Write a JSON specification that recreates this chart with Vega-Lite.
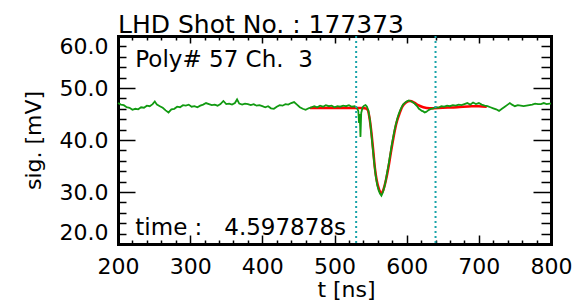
{
  "$schema": "https://vega.github.io/schema/vega-lite/v6.json",
  "width": 433,
  "height": 208,
  "autosize": {"type": "none"},
  "padding": {"left": 118, "top": 36, "right": 31, "bottom": 58},
  "background": "white",
  "title": {"text": "LHD Shot No. : 177373", "anchor": "start", "frame": "group", "font": "DejaVu Sans", "fontSize": 25, "fontWeight": "normal", "color": "black", "baseline": "alphabetic", "offset": -23},
  "config": {
    "view": {"stroke": null},
    "axis": {"grid": false, "tickColor": "black", "domainColor": "black", "labelColor": "black", "titleColor": "black", "labelFont": "DejaVu Sans", "titleFont": "DejaVu Sans", "labelFontSize": 22, "titleFontSize": 22, "titleFontWeight": "normal", "tickWidth": 1.5, "domainCap": "square"}
  },
  "resolve": {"axis": {"x": "independent", "y": "independent"}},
  "layer": [
    {
      "data": {"values": [
        {"t": 466, "v": 46.15}, {"t": 480, "v": 46.15}, {"t": 500, "v": 46.15}, {"t": 520, "v": 46.15}, {"t": 535, "v": 46.15}, {"t": 542, "v": 46.1}, {"t": 546, "v": 45.8}, {"t": 549, "v": 43.8}, {"t": 551.5, "v": 41.0}, {"t": 553.8, "v": 37.8}, {"t": 556, "v": 34.6}, {"t": 558.4, "v": 32.3}, {"t": 562, "v": 30.4}, {"t": 564.4, "v": 29.75}, {"t": 567.6, "v": 30.4}, {"t": 571.3, "v": 32.3}, {"t": 574.6, "v": 34.6}, {"t": 577.9, "v": 37.4}, {"t": 581.5, "v": 40.3}, {"t": 585.2, "v": 42.9}, {"t": 589.4, "v": 44.8}, {"t": 594, "v": 46.4}, {"t": 599, "v": 47.2}, {"t": 604.6, "v": 47.5}, {"t": 610.5, "v": 47.2}, {"t": 616, "v": 46.7}, {"t": 623, "v": 46.3}, {"t": 632, "v": 46.1}, {"t": 650, "v": 46.2}, {"t": 670, "v": 46.3}, {"t": 690, "v": 46.5}, {"t": 700, "v": 46.5}, {"t": 711, "v": 46.4}
      ]},
      "mark": {"type": "line", "color": "#ff0000", "strokeWidth": 2.5, "interpolate": "monotone"},
      "encoding": {
        "x": {"field": "t", "type": "quantitative", "scale": {"domain": [200, 800], "nice": false, "zero": false},
          "axis": {"orient": "bottom", "values": [220,240,260,280,320,340,360,380,420,440,460,480,520,540,560,580,620,640,660,680,720,740,760,780], "tickSize": -4, "labels": false, "domain": false, "title": null}},
        "y": {"field": "v", "type": "quantitative", "scale": {"domain": [20, 60], "nice": false, "zero": false},
          "axis": {"orient": "left", "values": [22,24,26,28,32,34,36,38,42,44,46,48,52,54,56,58], "tickSize": -8, "labels": false, "domain": false, "title": null}}
      }
    },
    {
      "data": {"values": [
        {"t": 200, "v": 47.1}, {"t": 204, "v": 46.8}, {"t": 208, "v": 46.7}, {"t": 212, "v": 46.3}, {"t": 216, "v": 46.2}, {"t": 220, "v": 45.8}, {"t": 224, "v": 46.0}, {"t": 228, "v": 45.9}, {"t": 232, "v": 46.3}, {"t": 236, "v": 46.2}, {"t": 240, "v": 46.6}, {"t": 244, "v": 46.5}, {"t": 248, "v": 46.9}, {"t": 251, "v": 47.4}, {"t": 254, "v": 46.8}, {"t": 258, "v": 46.5}, {"t": 262, "v": 46.2}, {"t": 266, "v": 45.7}, {"t": 270, "v": 45.3}, {"t": 274, "v": 45.9}, {"t": 278, "v": 46.0}, {"t": 282, "v": 46.4}, {"t": 286, "v": 46.3}, {"t": 290, "v": 46.7}, {"t": 294, "v": 46.6}, {"t": 298, "v": 46.8}, {"t": 302, "v": 46.4}, {"t": 306, "v": 46.5}, {"t": 310, "v": 46.3}, {"t": 314, "v": 46.6}, {"t": 318, "v": 46.8}, {"t": 322, "v": 47.1}, {"t": 326, "v": 46.9}, {"t": 330, "v": 46.7}, {"t": 334, "v": 46.8}, {"t": 338, "v": 46.6}, {"t": 342, "v": 46.9}, {"t": 346, "v": 47.5}, {"t": 350, "v": 46.9}, {"t": 354, "v": 47.0}, {"t": 358, "v": 46.8}, {"t": 362, "v": 47.1}, {"t": 365, "v": 47.8}, {"t": 368, "v": 47.0}, {"t": 372, "v": 46.8}, {"t": 376, "v": 47.0}, {"t": 380, "v": 46.9}, {"t": 384, "v": 46.7}, {"t": 388, "v": 46.9}, {"t": 392, "v": 46.6}, {"t": 396, "v": 46.7}, {"t": 400, "v": 46.5}, {"t": 404, "v": 46.3}, {"t": 408, "v": 46.5}, {"t": 412, "v": 46.1}, {"t": 416, "v": 46.0}, {"t": 420, "v": 46.4}, {"t": 424, "v": 46.7}, {"t": 428, "v": 46.6}, {"t": 432, "v": 46.9}, {"t": 436, "v": 46.8}, {"t": 440, "v": 47.1}, {"t": 444, "v": 47.3}, {"t": 448, "v": 46.8}, {"t": 452, "v": 46.3}, {"t": 456, "v": 46.0}, {"t": 460, "v": 45.8}, {"t": 464, "v": 46.1}, {"t": 468, "v": 46.3}, {"t": 472, "v": 46.5}, {"t": 476, "v": 46.3}, {"t": 480, "v": 46.6}, {"t": 484, "v": 46.4}, {"t": 488, "v": 46.7}, {"t": 492, "v": 46.5}, {"t": 496, "v": 46.6}, {"t": 500, "v": 46.3}, {"t": 504, "v": 46.5}, {"t": 508, "v": 46.4}, {"t": 512, "v": 46.6}, {"t": 516, "v": 46.5}, {"t": 520, "v": 46.7}, {"t": 524, "v": 46.4}, {"t": 528, "v": 46.5}, {"t": 531, "v": 46.2}, {"t": 533, "v": 45.6}, {"t": 534, "v": 43.3}, {"t": 535, "v": 45.0}, {"t": 536, "v": 40.6}, {"t": 537, "v": 45.2}, {"t": 539, "v": 46.3}, {"t": 541, "v": 46.6}, {"t": 543, "v": 46.7}, {"t": 545, "v": 46.4}, {"t": 547, "v": 45.6}, {"t": 549, "v": 43.9}, {"t": 551, "v": 41.3}, {"t": 553, "v": 38.4}, {"t": 555, "v": 35.6}, {"t": 557, "v": 33.2}, {"t": 559, "v": 31.5}, {"t": 561, "v": 30.4}, {"t": 563, "v": 29.7}, {"t": 565, "v": 29.3}, {"t": 567, "v": 29.9}, {"t": 569, "v": 30.9}, {"t": 571, "v": 32.2}, {"t": 573, "v": 33.8}, {"t": 575, "v": 35.3}, {"t": 577, "v": 37.0}, {"t": 579, "v": 38.8}, {"t": 581, "v": 40.3}, {"t": 583, "v": 41.8}, {"t": 585, "v": 43.0}, {"t": 587, "v": 44.1}, {"t": 589, "v": 45.0}, {"t": 591, "v": 45.7}, {"t": 593, "v": 46.3}, {"t": 595, "v": 46.8}, {"t": 597, "v": 47.1}, {"t": 599, "v": 47.3}, {"t": 601, "v": 47.5}, {"t": 603, "v": 47.6}, {"t": 605, "v": 47.5}, {"t": 607, "v": 47.4}, {"t": 609, "v": 47.2}, {"t": 611, "v": 47.0}, {"t": 613, "v": 46.7}, {"t": 615, "v": 46.4}, {"t": 617, "v": 46.0}, {"t": 619, "v": 45.8}, {"t": 621, "v": 45.6}, {"t": 623, "v": 45.5}, {"t": 625, "v": 45.3}, {"t": 627, "v": 45.4}, {"t": 629, "v": 45.6}, {"t": 631, "v": 45.8}, {"t": 634, "v": 46.0}, {"t": 637, "v": 46.1}, {"t": 640, "v": 46.3}, {"t": 644, "v": 46.2}, {"t": 648, "v": 46.5}, {"t": 652, "v": 46.4}, {"t": 656, "v": 46.6}, {"t": 660, "v": 46.5}, {"t": 664, "v": 46.7}, {"t": 668, "v": 46.6}, {"t": 672, "v": 46.8}, {"t": 676, "v": 46.7}, {"t": 680, "v": 46.9}, {"t": 684, "v": 47.1}, {"t": 688, "v": 46.8}, {"t": 692, "v": 47.2}, {"t": 696, "v": 46.9}, {"t": 700, "v": 47.1}, {"t": 704, "v": 46.8}, {"t": 708, "v": 46.6}, {"t": 712, "v": 46.5}, {"t": 716, "v": 46.3}, {"t": 720, "v": 46.1}, {"t": 724, "v": 45.9}, {"t": 728, "v": 45.6}, {"t": 732, "v": 46.0}, {"t": 736, "v": 46.4}, {"t": 740, "v": 46.8}, {"t": 743, "v": 47.1}, {"t": 746, "v": 46.8}, {"t": 750, "v": 46.5}, {"t": 754, "v": 46.7}, {"t": 758, "v": 46.6}, {"t": 762, "v": 46.5}, {"t": 766, "v": 46.6}, {"t": 770, "v": 46.7}, {"t": 774, "v": 46.8}, {"t": 778, "v": 47.0}, {"t": 782, "v": 46.9}, {"t": 786, "v": 46.9}, {"t": 790, "v": 47.1}, {"t": 794, "v": 46.9}, {"t": 798, "v": 47.0}, {"t": 800, "v": 47.0}
      ]},
      "mark": {"type": "line", "color": "#119a11", "strokeWidth": 1.8},
      "encoding": {
        "x": {"field": "t", "type": "quantitative", "scale": {"domain": [200, 800], "nice": false, "zero": false},
          "axis": {"orient": "bottom", "values": [200, 300, 400, 500, 600, 700, 800], "tickSize": -9, "labelPadding": 21, "labelFlush": false, "domain": true, "domainWidth": 3, "title": "t [ns]", "titlePadding": 2, "titleX": 228}},
        "y": {"field": "v", "type": "quantitative", "scale": {"domain": [20, 60], "nice": false, "zero": false},
          "axis": {"orient": "left", "values": [20, 30, 40, 50, 60], "format": ".1f", "tickSize": -17, "labelPadding": 27, "labelFlush": true, "domain": true, "domainWidth": 3, "title": "sig. [mV]", "titlePadding": 14}}
      }
    },
    {
      "data": {"values": [{"t": 224, "v": 55.4, "label": "Poly#\u00a057 Ch.\u00a0\u00a03"}]},
      "mark": {"type": "text", "align": "left", "baseline": "middle", "font": "DejaVu Sans", "fontSize": 23, "color": "black"},
      "encoding": {
        "x": {"field": "t", "type": "quantitative", "scale": {"domain": [200, 800], "nice": false, "zero": false},
          "axis": {"orient": "top", "values": [200, 300, 400, 500, 600, 700, 800], "tickSize": -7, "labels": false, "domain": true, "domainWidth": 3, "title": null}},
        "y": {"field": "v", "type": "quantitative", "scale": {"domain": [20, 60], "nice": false, "zero": false},
          "axis": {"orient": "right", "values": [20, 30, 40, 50, 60], "tickSize": -18, "labels": false, "domain": true, "domainWidth": 3, "title": null}},
        "text": {"field": "label"}
      }
    },
    {
      "data": {"values": [{"t": 224, "v": 23.1, "label": "time :\u00a0\u00a0\u00a04.597878s"}]},
      "mark": {"type": "text", "align": "left", "baseline": "middle", "font": "DejaVu Sans", "fontSize": 23, "color": "black"},
      "encoding": {
        "x": {"field": "t", "type": "quantitative", "scale": {"domain": [200, 800], "nice": false, "zero": false},
          "axis": {"orient": "top", "values": [220,240,260,280,320,340,360,380,420,440,460,480,520,540,560,580,620,640,660,680,720,740,760,780], "tickSize": -4, "labels": false, "domain": false, "title": null}},
        "y": {"field": "v", "type": "quantitative", "scale": {"domain": [20, 60], "nice": false, "zero": false},
          "axis": {"orient": "right", "values": [22,24,26,28,32,34,36,38,42,44,46,48,52,54,56,58], "tickSize": -10, "labels": false, "domain": false, "title": null}},
        "text": {"field": "label"}
      }
    },
    {
      "data": {"values": [{"t": 530}, {"t": 640}]},
      "mark": {"type": "rule", "color": "#18a4aa", "strokeWidth": 2, "strokeDash": [2, 3]},
      "encoding": {
        "x": {"field": "t", "type": "quantitative", "scale": {"domain": [200, 800], "nice": false, "zero": false}, "axis": null}
      }
    }
  ]
}
